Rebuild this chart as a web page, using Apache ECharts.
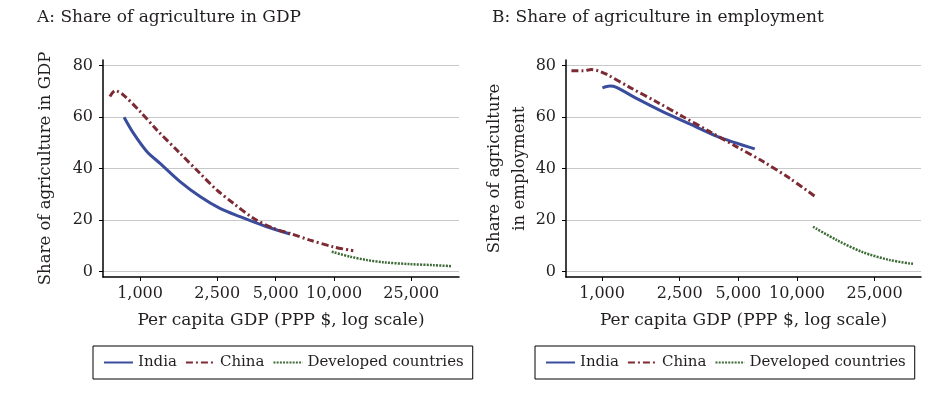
<!DOCTYPE html>
<html>
<head>
<meta charset="utf-8">
<script src="https://cdn.jsdelivr.net/npm/echarts@6/dist/echarts.min.js"></script>
<style>
html,body{margin:0;padding:0;background:#fff;}
#c{width:938px;height:394px;}
</style>
</head>
<body>
<div id="c"></div>
<script>
// ---- Data ----
const xTicks = [1000, 2500, 5000, 10000, 25000];
const yTicks = [0, 20, 40, 60, 80];

// Panel A: share of agriculture in GDP
const indiaGdpX = [827, 924, 1083, 1267, 1607, 2037, 2580, 3274, 4496, 5930];
const indiaGdpY = [59.9, 53.7, 46.6, 42.0, 34.9, 29.1, 24.5, 21.3, 17.4, 14.6];
const chinaGdpX = [699, 743, 821, 1000, 1219, 1607, 2037, 2483, 3027, 3840, 4864, 5930, 7515, 9907, 12560];
const chinaGdpY = [67.9, 70.2, 68.5, 62.1, 55.0, 45.9, 38.1, 31.7, 26.5, 20.7, 16.8, 14.8, 12.2, 9.6, 8.1];
const devGdpX = [9727, 12080, 14730, 17950, 24660, 32510, 40430];
const devGdpY = [7.7, 5.8, 4.5, 3.6, 2.9, 2.5, 2.1];

// Panel B: share of agriculture in employment
const indiaEmpX = [1004, 1095, 1185, 1501, 2056, 2817, 3857, 6070];
const indiaEmpY = [71.3, 72.0, 71.5, 67.2, 62.0, 57.3, 52.6, 47.6];
const chinaEmpX = [696, 800, 881, 954, 1052, 1386, 1900, 2602, 3566, 4886, 6696, 9170, 12560];
const chinaEmpY = [77.9, 77.9, 78.4, 77.9, 76.6, 71.5, 65.9, 60.1, 54.3, 48.5, 42.7, 36.2, 28.8];
const devEmpX = [12080, 15920, 21790, 29840, 39360];
const devEmpY = [17.4, 12.3, 7.5, 4.5, 3.0];

const seriesNames = ['India', 'China', 'Developed countries'];
const titles = ['A: Share of agriculture in GDP', 'B: Share of agriculture in employment'];
const yNames = ['Share of agriculture in GDP', 'Share of agriculture\nin employment'];
const xName = 'Per capita GDP (PPP $, log scale)';

// ---- Styling ----
const FONT = 'DejaVu Serif';
const TXT = '#231f20';
const colors = ['#3a4c9c', '#7c2a33', '#3d6b36'];
const lineTypes = ['solid', [7, 3, 2, 3], [2, 1.2]];
const lineWidths = [3, 3, 2.5];

const pair = (xs, ys) => xs.map((x, i) => [x, ys[i]]);
const fmt = v => Number(v).toLocaleString('en-US');

function mkX(idx, min, max) {
  return {
    type: 'log', logBase: 10, gridIndex: idx, min: min, max: max,
    name: xName, nameLocation: 'middle', nameGap: 35, nameMoveOverlap: false,
    nameTextStyle: {fontFamily: FONT, fontSize: 17, color: TXT},
    axisLine: {show: true, onZero: false, lineStyle: {color: '#000', width: 1.5}},
    axisTick: {show: true, length: 4, customValues: xTicks, lineStyle: {color: '#000', width: 1}},
    axisLabel: {customValues: xTicks, formatter: fmt, margin: 9, fontFamily: FONT, fontSize: 16, color: TXT},
    splitLine: {show: false}, minorTick: {show: false}
  };
}
function mkY(idx, nameGap) {
  return {
    type: 'value', gridIndex: idx, min: -2.1, max: 82.1,
    name: yNames[idx], nameLocation: 'middle', nameGap: nameGap, nameRotate: 90, nameMoveOverlap: false,
    nameTextStyle: {fontFamily: FONT, fontSize: 16.5, color: TXT, lineHeight: 25},
    axisLine: {show: true, onZero: false, lineStyle: {color: '#000', width: 1.5}},
    axisTick: {show: true, length: 4, customValues: yTicks, lineStyle: {color: '#000', width: 1}},
    axisLabel: {customValues: yTicks, margin: 10, fontFamily: FONT, fontSize: 16, color: TXT},
    splitLine: {show: true, lineStyle: {color: '#c8c8c8', width: 1}}
  };
}
function mkSeries(gi, datasets) {
  return datasets.map((d, k) => ({
    name: seriesNames[k], type: 'line', xAxisIndex: gi, yAxisIndex: gi,
    data: d, symbol: 'none', showSymbol: false, smooth: 0.3, silent: true,
    lineStyle: {color: colors[k], width: lineWidths[k], type: lineTypes[k]},
    itemStyle: {color: colors[k]}
  }));
}
function mkLegend(left) {
  return {
    left: left, top: 346, orient: 'horizontal',
    itemWidth: 29, itemHeight: 12, itemGap: 8,
    padding: [9, 9, 9, 10],
    borderColor: '#000', borderWidth: 1, borderRadius: 0,
    itemStyle: {opacity: 0},
    textStyle: {fontFamily: FONT, fontSize: 15, color: TXT},
    data: seriesNames
  };
}

const chart = echarts.init(document.getElementById('c'), null, {renderer: 'canvas'});
chart.setOption({
  animation: false,
  backgroundColor: '#fff',
  title: [
    {text: titles[0], left: 37, top: 9, padding: 0, textStyle: {fontFamily: FONT, fontSize: 17, fontWeight: 'normal', color: TXT}},
    {text: titles[1], left: 492, top: 9, padding: 0, textStyle: {fontFamily: FONT, fontSize: 17, fontWeight: 'normal', color: TXT}}
  ],
  grid: [
    {left: 103, right: 479, top: 60, bottom: 117},
    {left: 566, right: 17, top: 60, bottom: 117}
  ],
  legend: [mkLegend(93), mkLegend(535)],
  xAxis: [mkX(0, 644, 44050), mkX(1, 653, 43250)],
  yAxis: [mkY(0, 45), mkY(1, 34)],
  series: [
    ...mkSeries(0, [pair(indiaGdpX, indiaGdpY), pair(chinaGdpX, chinaGdpY), pair(devGdpX, devGdpY)]),
    ...mkSeries(1, [pair(indiaEmpX, indiaEmpY), pair(chinaEmpX, chinaEmpY), pair(devEmpX, devEmpY)])
  ]
});
</script>
</body>
</html>
